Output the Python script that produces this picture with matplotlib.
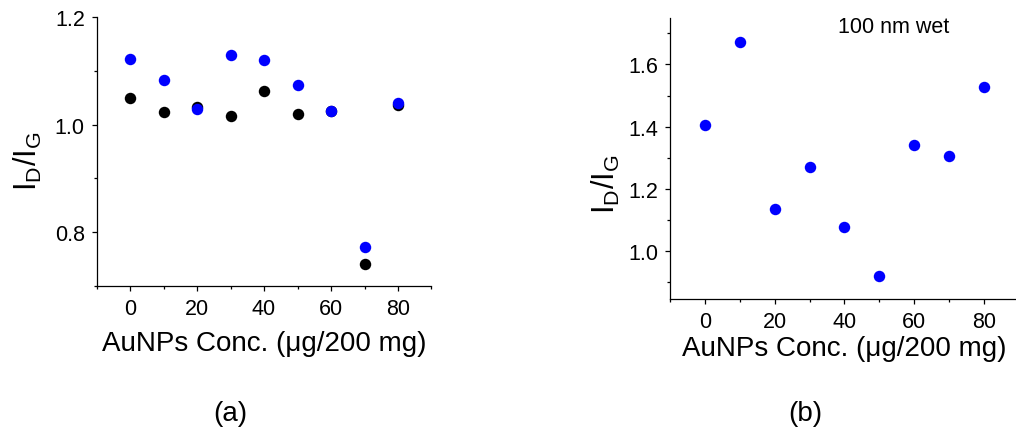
import numpy as np
import matplotlib
matplotlib.use("Agg")
import matplotlib.pyplot as plt
from matplotlib.ticker import MultipleLocator, FormatStrFormatter

plt.rcParams['font.family'] = ['Liberation Sans', 'DejaVu Sans']
plt.rcParams['mathtext.fontset'] = 'custom'
plt.rcParams['mathtext.rm'] = 'Liberation Sans'
plt.rcParams['mathtext.default'] = 'regular'

# data
conc = [0, 10, 20, 30, 40, 50, 60, 70, 80]
a_black = [1.049, 1.023, 1.033, 1.017, 1.062, 1.019, 1.025, 0.741, 1.037]
a_blue = [1.122, 1.083, 1.030, 1.129, 1.120, 1.073, 1.025, 0.773, 1.040]
b_blue = [1.406, 1.672, 1.135, 1.270, 1.077, 0.921, 1.342, 1.307, 1.527]

xlab = "AuNPs Conc. (\u03bcg/200 mg)"
ylab = "I$_D$/I$_G$"

W, H = 1016, 431
fig = plt.figure(figsize=(W / 100, H / 100), dpi=100)
ax1 = fig.add_axes([0.0951, 0.334, 0.3296, 0.624])
ax2 = fig.add_axes([0.6594, 0.3033, 0.3436, 0.652])

def style(ax):
    for s in ['top', 'right']:
        ax.spines[s].set_visible(False)
    for s in ['left', 'bottom']:
        ax.spines[s].set_linewidth(0.9)
    ax.tick_params(which='major', direction='out', length=3.5, width=0.9,
                   labelsize=15.5, pad=5)
    ax.tick_params(which='minor', direction='out', length=2, width=0.9)
    ax.xaxis.set_major_locator(MultipleLocator(20))
    ax.xaxis.set_minor_locator(MultipleLocator(10))
    ax.yaxis.set_major_locator(MultipleLocator(0.2))
    ax.yaxis.set_minor_locator(MultipleLocator(0.1))
    ax.yaxis.set_major_formatter(FormatStrFormatter('%.1f'))
    ax.set_xlim(-10, 90)

ax1.scatter(conc, a_black, s=68, color='black', linewidths=0, zorder=3)
ax1.scatter(conc, a_blue, s=68, color='#0000ff', linewidths=0, zorder=4)
style(ax1)
ax1.set_ylim(0.7, 1.2)
ax1.set_xlabel(xlab, fontsize=20, labelpad=8)

ax2.scatter(conc, b_blue, s=68, color='#0000ff', linewidths=0, zorder=4)
style(ax2)
ax2.set_ylim(0.846, 1.748)
ax2.set_xlabel(xlab, fontsize=20, labelpad=2)
ax2.text(0.64, 0.97, "100 nm wet", transform=ax2.transAxes,
         fontsize=15.5, ha='center', va='center')

fig.text(28 / W, 1 - 161 / H, ylab, fontsize=22, rotation=90,
         ha='center', va='center')
fig.text(606 / W, 1 - 184 / H, ylab, fontsize=22, rotation=90,
         ha='center', va='center')

fig.text(230 / W, 1 - 414 / H, "(a)", fontsize=20, ha='center', va='center')
fig.text(805 / W, 1 - 414 / H, "(b)", fontsize=20, ha='center', va='center')

fig.savefig("out.png", dpi=100)
